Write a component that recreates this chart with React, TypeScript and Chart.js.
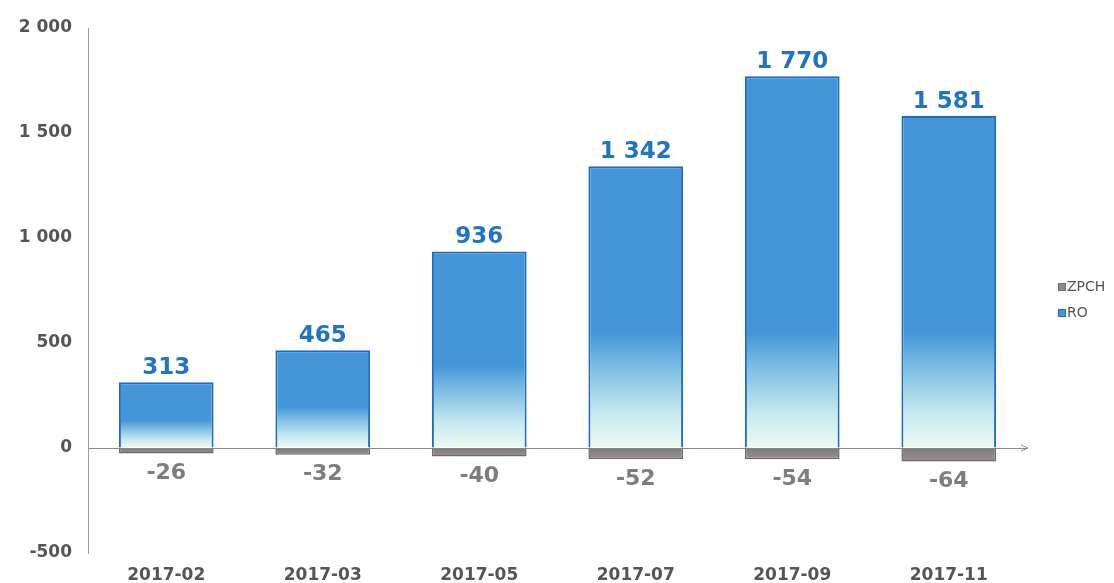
import React, { useEffect, useRef } from "react";
import { Chart, registerables } from "chart.js";

Chart.register(...registerables);

const categories = ["2017-02", "2017-03", "2017-05", "2017-07", "2017-09", "2017-11"];
const roValues = [313, 465, 936, 1342, 1770, 1581];
const zpchValues = [-26, -32, -40, -52, -54, -64];
const seriesNames = ["ZPCH", "RO"];
const yMin = -500;
const yMax = 2000;
const yStep = 500;

const FONT = "'DejaVu Sans', Verdana, sans-serif";

const fmt = (v: number) => {
  const s = String(Math.abs(v)).replace(/\B(?=(\d{3})+(?!\d))/g, " ");
  return v < 0 ? "-" + s : s;
};

const roFill = (ctx: any) => {
  const chart = ctx.chart;
  const area = chart.chartArea;
  const ys = chart.scales && chart.scales.y;
  if (!area || !ys || ctx.type !== "data") return "#4596d8";
  const y0 = ys.getPixelForValue(0);
  const y1 = ys.getPixelForValue(ctx.raw);
  if (!isFinite(y0) || !isFinite(y1)) return "#4596d8";
  const h = y0 - y1;
  const fade = Math.max(10, Math.min(h * 0.42, 115));
  const g = chart.ctx.createLinearGradient(0, y0, 0, y0 - fade);
  g.addColorStop(0, "#eefaf4");
  g.addColorStop(0.3, "#c6e9ef");
  g.addColorStop(0.7, "#7dbde3");
  g.addColorStop(1, "#4596d8");
  return g;
};

const zpchFill = (ctx: any) => {
  const chart = ctx.chart;
  const ys = chart.scales && chart.scales.y;
  if (!chart.chartArea || !ys || ctx.type !== "data") return "#8f8a8b";
  const y0 = ys.getPixelForValue(0);
  const y1 = ys.getPixelForValue(ctx.raw);
  if (!isFinite(y0) || !isFinite(y1)) return "#8f8a8b";
  const g = chart.ctx.createLinearGradient(0, y0, 0, y1);
  g.addColorStop(0, "#7a7a7d");
  g.addColorStop(1, "#9c8e90");
  return g;
};

const labelsPlugin = {
  id: "customLabels",
  afterDatasetsDraw(chart: any) {
    const ctx = chart.ctx;
    ctx.save();
    const ys = chart.scales.y;
    const y0 = ys.getPixelForValue(0);
    const right = chart.chartArea.right;
    ctx.strokeStyle = "#8a8a8a";
    ctx.lineWidth = 1;
    ctx.beginPath();
    ctx.moveTo(right - 6, y0 - 3);
    ctx.lineTo(right + 1, y0);
    ctx.lineTo(right - 6, y0 + 3);
    ctx.stroke();

    chart.data.datasets.forEach((ds: any, di: number) => {
      const meta = chart.getDatasetMeta(di);
      meta.data.forEach((bar: any, i: number) => {
        const v = ds.data[i];
        if (v >= 0) {
          ctx.font = "bold 23px " + FONT;
          ctx.fillStyle = "#1f74c4";
          ctx.textAlign = "center";
          ctx.textBaseline = "alphabetic";
          ctx.fillText(fmt(v), bar.x, bar.y - 8);
        } else {
          ctx.font = "bold 22px " + FONT;
          ctx.fillStyle = "#7d7d7d";
          ctx.textAlign = "center";
          ctx.textBaseline = "middle";
          ctx.fillText(fmt(v), bar.x, bar.y + 20);
        }
      });
    });

    const items = [
      { name: seriesNames[0], fill: "#8f8a8b", stroke: "#6e6e6e", y: 287 },
      { name: seriesNames[1], fill: "#4596d8", stroke: "#1f6fc0", y: 313 },
    ];
    items.forEach((it) => {
      ctx.fillStyle = it.fill;
      ctx.fillRect(1058, it.y - 4, 8, 8);
      ctx.strokeStyle = it.stroke;
      ctx.lineWidth = 1;
      ctx.strokeRect(1058.5, it.y - 3.5, 7, 7);
      ctx.font = "14px " + FONT;
      ctx.fillStyle = "#555555";
      ctx.textAlign = "left";
      ctx.textBaseline = "middle";
      ctx.fillText(it.name, 1067, it.y);
    });
    ctx.restore();
  },
};

export default function App() {
  const ref = useRef<HTMLCanvasElement>(null);

  useEffect(() => {
    document.body.style.margin = "0";
    const canvas = ref.current;
    if (!canvas) return;
    const chart = new Chart(canvas, {
      type: "bar",
      data: {
        labels: categories,
        datasets: [
          {
            label: seriesNames[0],
            data: zpchValues,
            backgroundColor: zpchFill as any,
            borderColor: "#6a6a6a",
            borderWidth: 1.5,
            barPercentage: 0.605,
            categoryPercentage: 1,
          },
          {
            label: seriesNames[1],
            data: roValues,
            backgroundColor: roFill as any,
            borderColor: "#1c6dc2",
            borderWidth: 2,
            barPercentage: 0.605,
            categoryPercentage: 1,
          },
        ],
      },
      options: {
        responsive: false,
        animation: false,
        layout: { padding: { top: 28, right: 87, left: 0, bottom: 0 } },
        plugins: {
          legend: { display: false },
          tooltip: { enabled: false },
        },
        scales: {
          x: {
            stacked: true,
            grid: { display: false, drawTicks: false },
            border: { display: false },
            ticks: {
              padding: 12,
              color: "#555555",
              font: { family: FONT, size: 17, weight: "bold" },
            },
            afterFit: (s: any) => {
              s.height = 30;
            },
          },
          y: {
            stacked: true,
            min: yMin,
            max: yMax,
            ticks: {
              stepSize: yStep,
              padding: 16,
              color: "#555555",
              font: { family: FONT, size: 17, weight: "bold" },
              callback: (v: any) => fmt(Number(v)),
            },
            grid: {
              drawTicks: false,
              color: (c: any) => (c.tick && c.tick.value === 0 ? "#8a8a8a" : "rgba(0,0,0,0)"),
              lineWidth: 1,
            },
            border: { display: true, color: "#9a9a9a", width: 1 },
            afterFit: (s: any) => {
              s.width = 88;
            },
          },
        },
      },
      plugins: [labelsPlugin],
    });
    return () => chart.destroy();
  }, []);

  return (
    <div style={{ width: 1114, height: 583, background: "#ffffff" }}>
      <canvas ref={ref} width={1114} height={583} style={{ display: "block" }} />
    </div>
  );
}
